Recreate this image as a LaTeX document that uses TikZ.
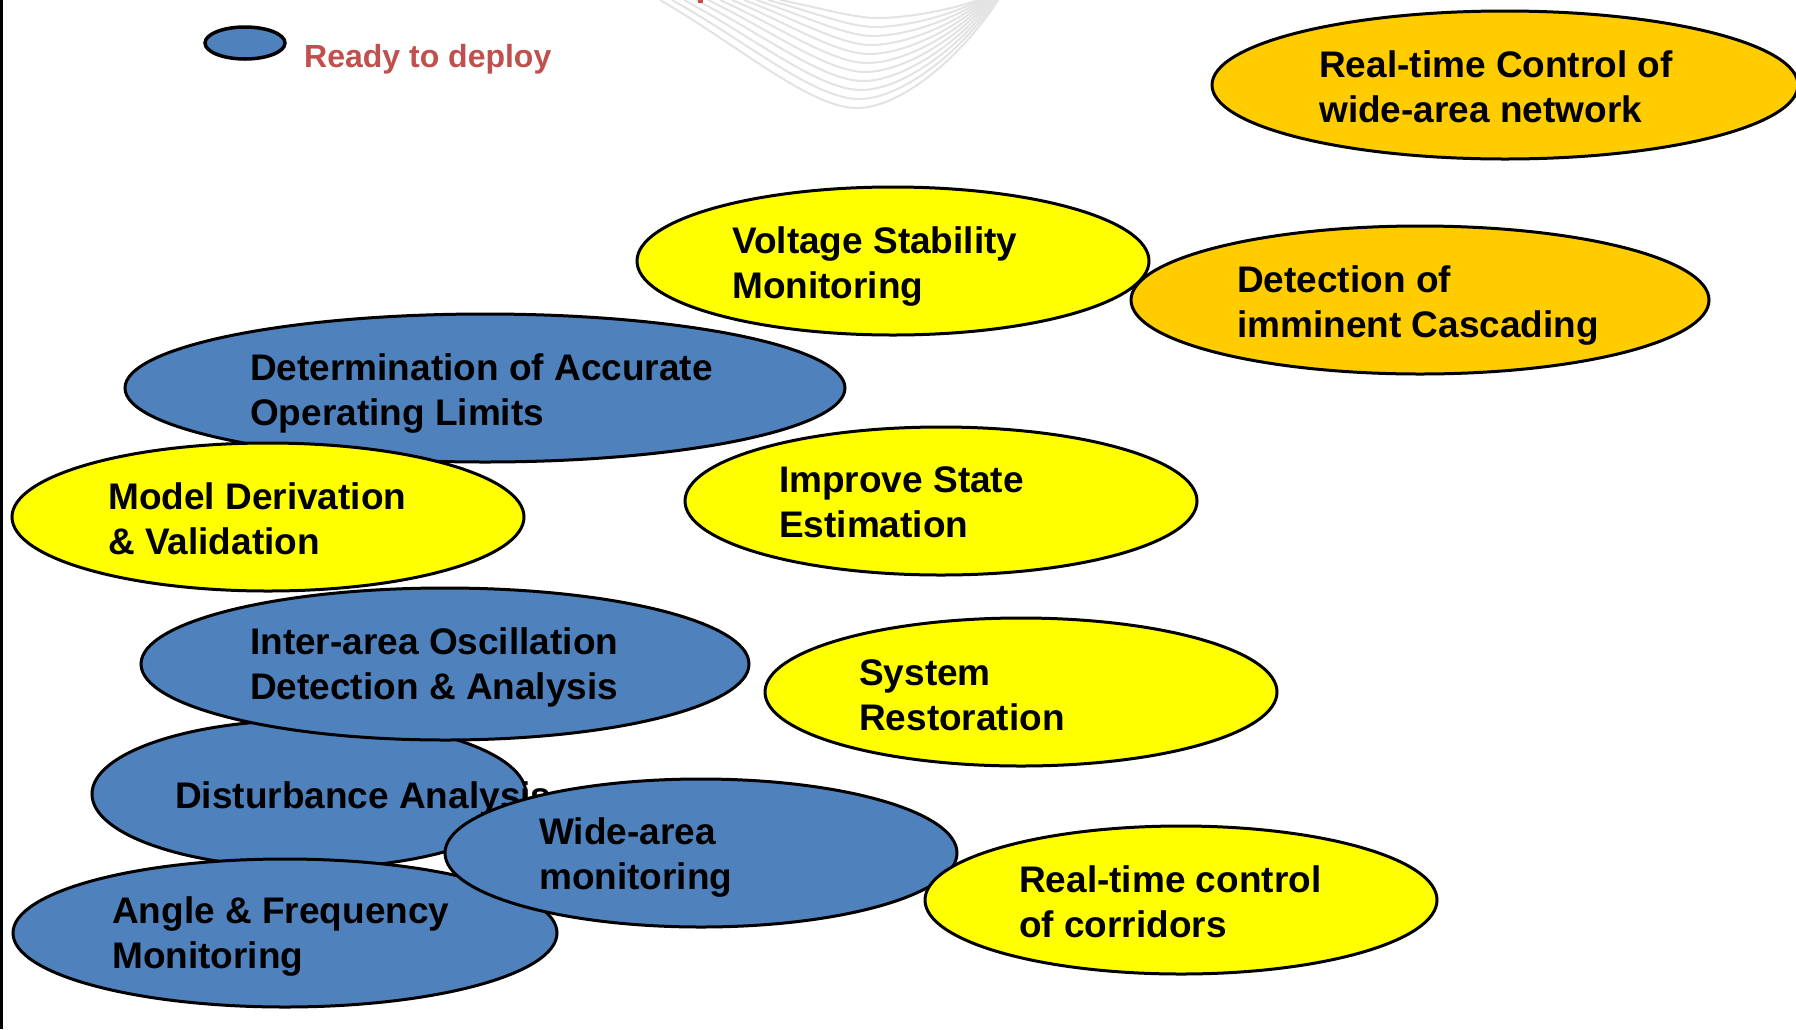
\documentclass[tikz,border=0pt]{standalone}
\usepackage{fontspec}
\setmainfont{Liberation Sans}
\usetikzlibrary{shapes.geometric}
\definecolor{bluefill}{HTML}{4F81BD}
\definecolor{yelfill}{HTML}{FFFF00}
\definecolor{orgfill}{HTML}{FFCC00}
\definecolor{legred}{HTML}{C0504D}
\definecolor{curvegrey}{HTML}{E3E3E3}
\tikzset{
  blob/.style={ellipse, draw=black, line width=3pt, inner sep=0pt},
  blueblob/.style={blob, fill=bluefill},
  yelblob/.style={blob, fill=yelfill},
  orgblob/.style={blob, fill=orgfill},
  lbl/.style={anchor=west, align=left, inner sep=0pt, text=black,
    font=\fontsize{37}{45}\selectfont\bfseries},
  deco/.style={draw=curvegrey, line width=2pt},
}
\begin{document}
\begin{tikzpicture}[x=1pt,y=-1pt]
\useasboundingbox (0,0) rectangle (1796,1029);
\fill[white] (0,0) rectangle (1796,1029);
% left black bar
\fill[black] (0,0) rectangle (3,1029);
% decorative curves at the top
\foreach \k in {0,...,10}{
  \pgfmathsetmacro{\xa}{660+12*\k}
  \pgfmathsetmacro{\yb}{108-9*\k}
  \pgfmathsetmacro{\xb}{857+2*\k}
  \pgfmathsetmacro{\xe}{998-2*\k}
  \pgfmathsetmacro{\ca}{\xa+0.4*(\xb-\xa)}
  \pgfmathsetmacro{\cay}{0.42*\yb}
  \pgfmathsetmacro{\cb}{\xb-0.24*(\xb-\xa)}
  \pgfmathsetmacro{\cc}{\xb+0.3*(\xe-\xb)}
  \pgfmathsetmacro{\cd}{\xe-0.27*(\xe-\xb)}
  \pgfmathsetmacro{\cdy}{0.55*\yb}
  \draw[deco] (\xa,0) .. controls (\ca,\cay) and (\cb,\yb) .. (\xb,\yb)
              .. controls (\cc,\yb) and (\cd,\cdy) .. (\xe,0);
}
\fill[legred] (698,0) rectangle (703,2.5);
% legend
\node[blueblob, line width=3.5pt, minimum width=80pt, minimum height=32pt] (leg) at (245,43) {};
\node[anchor=base west, inner sep=0pt, text=legred, font=\fontsize{32}{36}\selectfont\bfseries] (legt) at (304,67) {Ready to deploy};
% ellipses, back to front
\node[blueblob, minimum width=720pt, minimum height=148pt] (det) at (485,388) {};
\node[lbl] (dett) at (250,394) {Determination of Accurate\\Operating Limits};
\node[yelblob, minimum width=512pt, minimum height=148pt] (mod) at (268,517) {};
\node[lbl] (modt) at (108,519) {Model Derivation\\\& Validation};
\node[yelblob, minimum width=512pt, minimum height=148pt] (vol) at (893,261) {};
\node[lbl] (volt) at (732,267) {Voltage Stability\\Monitoring};
\node[orgblob, minimum width=578pt, minimum height=148pt] (cas) at (1420,300) {};
\node[lbl] (cast) at (1237,306) {Detection of\\imminent Cascading};
\node[orgblob, minimum width=586pt, minimum height=148pt] (rtw) at (1505,85) {};
\node[lbl] (rtwt) at (1319,87) {Real-time Control of\\wide-area network};
\node[yelblob, minimum width=512pt, minimum height=148pt] (imp) at (941,501) {};
\node[lbl] (impt) at (779,502) {Improve State\\Estimation};
\node[blueblob, minimum width=434pt, minimum height=148pt] (dis) at (309,794) {};
\node[lbl, anchor=base west] (dist) at (175,808) {Disturbance Analysis};
\node[blueblob, minimum width=544pt, minimum height=148pt] (ang) at (285,933) {};
\node[lbl] (angt) at (112,936) {Angle \& Frequency\\Monitoring};
\node[blueblob, minimum width=608pt, minimum height=152pt] (int) at (445,664) {};
\node[lbl] (intt) at (250,667) {Inter-area Oscillation\\Detection \& Analysis};
\node[blueblob, minimum width=512pt, minimum height=148pt] (wam) at (701,853) {};
\node[lbl] (wamt) at (539,857) {Wide-area\\monitoring};
\node[yelblob, minimum width=512pt, minimum height=148pt] (sys) at (1021,692) {};
\node[lbl] (syst) at (859,695) {System\\Restoration};
\node[yelblob, minimum width=512pt, minimum height=148pt] (cor) at (1181,900) {};
\node[lbl] (cort) at (1019,902) {Real-time control\\of corridors};
\end{tikzpicture}
\end{document}
